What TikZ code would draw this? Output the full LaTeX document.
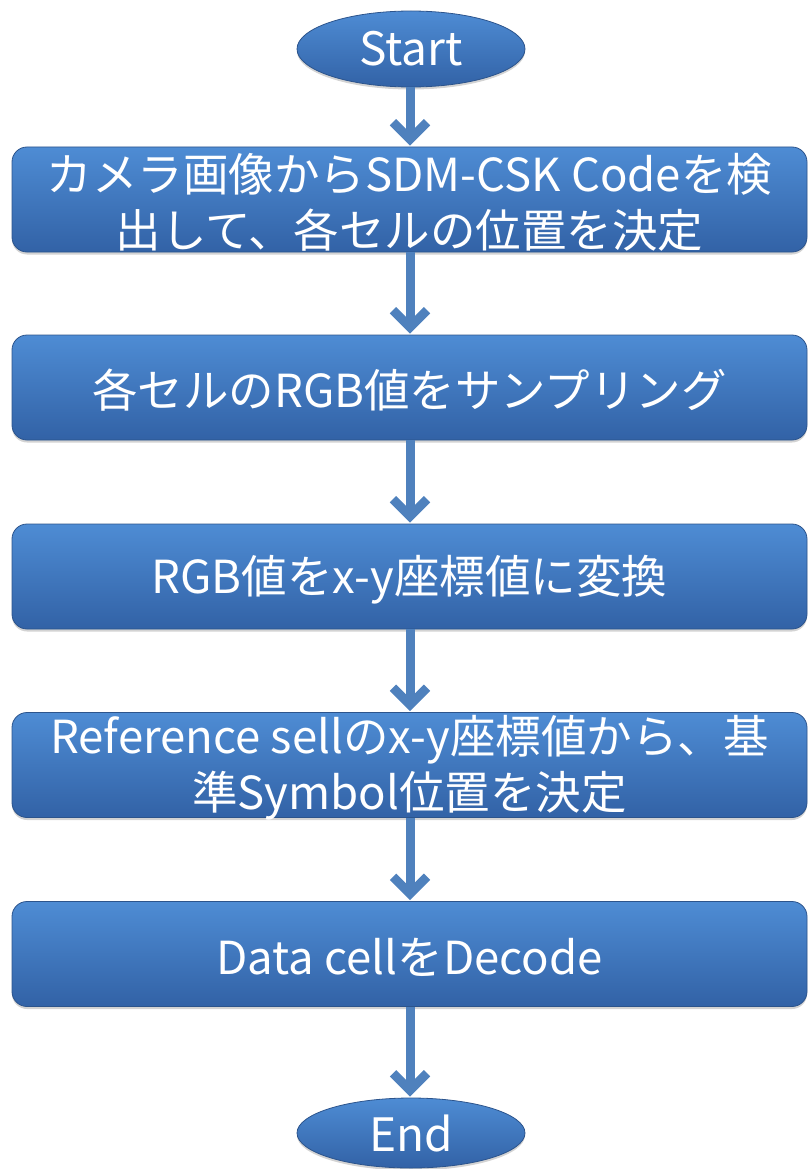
\documentclass[tikz,border=0pt]{standalone}
\usepackage{fontspec}
\setmainfont{Noto Sans CJK JP}
\usetikzlibrary{arrows.meta,shadows,shapes.geometric}
\definecolor{boxtop}{RGB}{78,140,212}
\definecolor{boxbot}{RGB}{50,98,166}
\definecolor{boxedge}{RGB}{44,84,140}
\definecolor{arrowc}{RGB}{79,129,189}
\newcommand{\lowline}[1]{\raisebox{-3pt}[\height][\depth]{#1}}
\tikzset{
  stepbox/.style={rectangle, rounded corners=15pt, minimum width=795pt, minimum height=105pt,
    top color=boxtop, bottom color=boxbot, draw=boxedge, line width=0.8pt,
    text=white, align=center, font=\fontsize{45.5}{56}\selectfont, inner sep=0pt,
    drop shadow={opacity=0.35, shadow xshift=0pt, shadow yshift=-2.5pt}},
  termnode/.style={ellipse, minimum width=228pt, minimum height=76pt, inner sep=0pt,
    top color=boxtop, bottom color=boxbot, draw=boxedge, line width=0.8pt,
    text=white, font=\fontsize{46}{56}\selectfont,
    drop shadow={opacity=0.35, shadow xshift=0pt, shadow yshift=-2.5pt}},
  flowarrow/.style={draw=arrowc, line width=9pt,
    -{Straight Barb[length=17pt,width=34pt]}, shorten >=1pt}
}
\begin{document}
\begin{tikzpicture}[x=1pt,y=-1pt]
\useasboundingbox (0,0) rectangle (809,1169);
\node[termnode] (start) at (411,49) {Start};
\node[stepbox] (b1) at (409.5,199.5) {\lowline{カメラ画像からSDM-CSK Codeを検}\\\lowline{出して、各セルの位置を決定}};
\node[stepbox] (b2) at (409.5,387.5) {\lowline{各セルのRGB値をサンプリング}};
\node[stepbox] (b3) at (409.5,576.5) {\lowline{RGB値をx-y座標値に変換}};
\node[stepbox] (b4) at (409.5,765) {\lowline{Reference sellのx-y座標値から、基}\\\lowline{準Symbol位置を決定}};
\node[stepbox] (b5) at (409.5,954) {\lowline{Data cellをDecode}};
\node[termnode, minimum height=70pt] (end) at (411,1133) {End};
\draw[flowarrow] (start.south -| 410,0) -- (b1.north -| 410,0);
\draw[flowarrow] (b1.south -| 410,0) -- (b2.north -| 410,0);
\draw[flowarrow] (b2.south -| 410,0) -- (b3.north -| 410,0);
\draw[flowarrow] (b3.south -| 410,0) -- (b4.north -| 410,0);
\draw[flowarrow] (b4.south -| 410,0) -- (b5.north -| 410,0);
\draw[flowarrow] (b5.south -| 410,0) -- (end.north -| 410,0);
\end{tikzpicture}
\end{document}
